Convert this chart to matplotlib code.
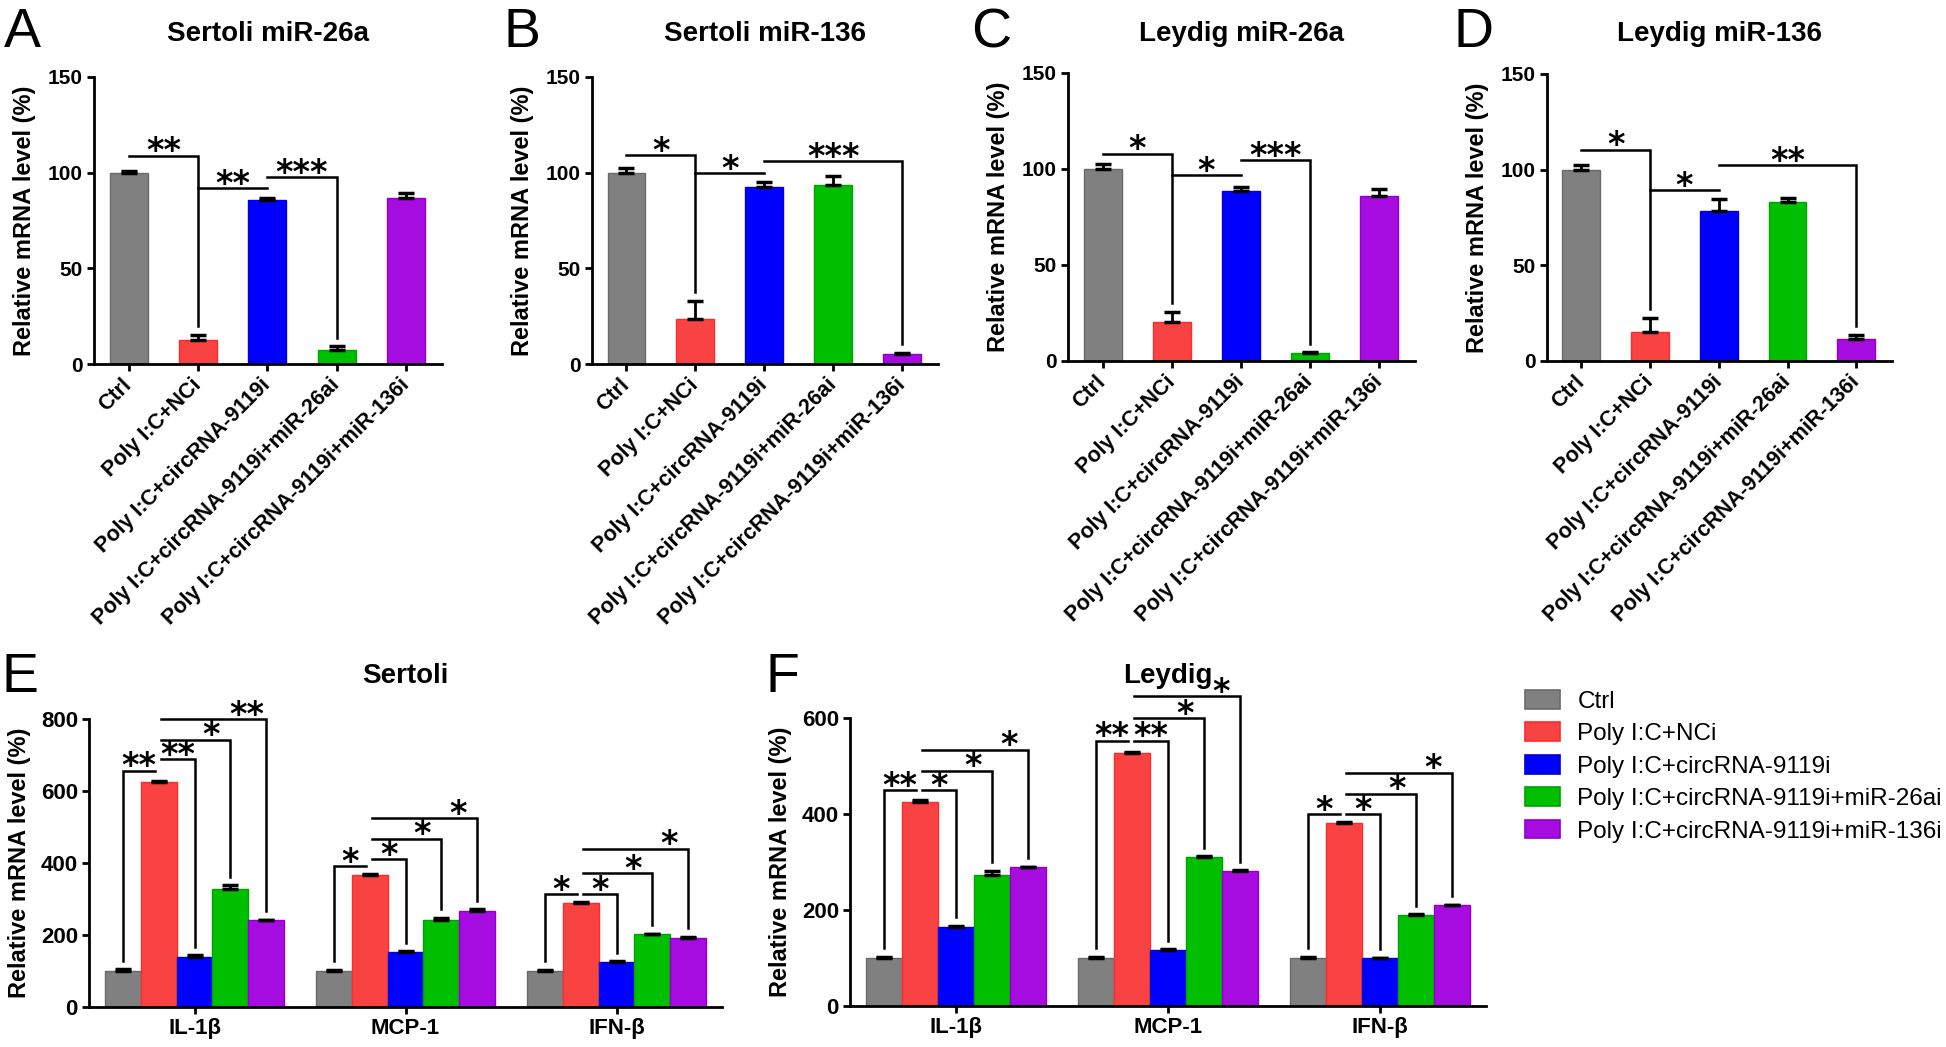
import matplotlib
matplotlib.use("Agg")
from matplotlib import pyplot as plt
from matplotlib.patches import Patch
import numpy as np

plt.rcParams['font.family'] = ['Liberation Sans', 'DejaVu Sans']

groups = ["Ctrl", "Poly I:C+NCi", "Poly I:C+circRNA-9119i",
          "Poly I:C+circRNA-9119i+miR-26ai", "Poly I:C+circRNA-9119i+miR-136i"]
genes = ["IL-1β", "MCP-1", "IFN-β"]
colors = ['#808080', '#f94242', '#0000ff', '#00be00', '#a60be0']
edges = ['#6a6a6a', '#ff2a2a', '#0000d0', '#00a200', '#9000c8']

# panels A-D: mean and upper error, one value per group
a_mean = [100, 12.3, 85.5, 7.5, 86.7]
a_err = [0.8, 3.0, 1.5, 1.7, 2.5]
b_mean = [100, 23.5, 92.3, 93.5, 5.4]
b_err = [2.5, 9.5, 3.0, 4.7, 0.5]
c_mean = [100, 20.1, 88.8, 4.0, 86.0]
c_err = [2.5, 5.6, 1.9, 0.5, 3.5]
d_mean = [100, 15.3, 78.4, 83.3, 11.3]
d_err = [2.4, 7.3, 6.1, 1.7, 2.3]

# significance brackets: (left bar, right bar, height, label, side that drops)
a_sig = [(0, 1, 108.8, '**', 'R'), (1, 2, 91.8, '**', ''), (2, 3, 97.5, '***', 'R')]
b_sig = [(0, 1, 109.0, '*', 'R'), (1, 2, 99.6, '*', ''), (2, 4, 105.9, '***', 'R')]
c_sig = [(0, 1, 107.9, '*', 'R'), (1, 2, 96.8, '*', ''), (2, 3, 104.6, '***', 'R')]
d_sig = [(0, 1, 110.5, '*', 'R'), (1, 2, 89.2, '*', ''), (2, 4, 102.3, '**', 'R')]

# panels E-F: rows = groups, columns = genes
e_mean = [[100, 100, 100], [624, 366, 288], [139, 153, 124], [329, 243, 202], [241, 268, 192]]
e_err = [[5, 3, 3], [4, 3, 4], [5, 2, 3], [9, 4, 2], [2, 3, 3]]
f_mean = [[100, 100, 100], [425, 528, 381], [164, 116, 99], [272, 310, 189], [289, 282, 210]]
f_err = [[3, 3, 2], [4, 2, 3], [3, 2, 1], [9, 2, 2], [1, 1, 1]]

# (gene, left bar, right bar, height, label, side)
e_sig = [(0, 0, 1, 656, '**', 'L'), (0, 1, 2, 688, '**', 'R'), (0, 1, 3, 743, '*', 'R'), (0, 1, 4, 800, '**', 'R'),
         (1, 0, 1, 391, '*', 'L'), (1, 1, 2, 411, '*', 'R'), (1, 1, 3, 467, '*', 'R'), (1, 1, 4, 525, '*', 'R'),
         (2, 0, 1, 313, '*', 'L'), (2, 1, 2, 313, '*', 'R'), (2, 1, 3, 371, '*', 'R'), (2, 1, 4, 440, '*', 'R')]
f_sig = [(0, 0, 1, 449, '**', 'L'), (0, 1, 2, 449, '*', 'R'), (0, 1, 3, 490, '*', 'R'), (0, 1, 4, 534, '*', 'R'),
         (1, 0, 1, 553, '**', 'L'), (1, 1, 2, 553, '**', 'R'), (1, 1, 3, 600, '*', 'R'), (1, 1, 4, 645, '*', 'R'),
         (2, 0, 1, 400, '*', 'L'), (2, 1, 2, 400, '*', 'R'), (2, 1, 3, 442, '*', 'R'), (2, 1, 4, 486, '*', 'R')]

W, H = 1946, 1047
fig = plt.figure(figsize=(W / 100, H / 100), dpi=100)


def add_axes_px(left, top, right, bottom):
    return fig.add_axes([left / W, 1 - bottom / H, (right - left) / W, (bottom - top) / H])


def style(ax, width_px):
    for s in ['top', 'right']:
        ax.spines[s].set_visible(False)
    for s in ['left', 'bottom']:
        ax.spines[s].set_linewidth(2)
    ax.tick_params(width=2, length=5, direction='out', pad=3)
    ax.set_ylabel("Relative mRNA level (%)", fontsize=17, fontweight='bold')
    # right edge of the rotated label sits ~58 px left of the spine
    ax.yaxis.set_label_coords(-58 / width_px, 0.5)


def bracket(ax, xl, xr, y, label, side, top_l, top_r, gap, star_x):
    if side == 'L':
        xs, ys = [xl, xl, xr], [top_l + gap, y, y]
    elif side == 'R':
        xs, ys = [xl, xr, xr], [y, y, top_r + gap]
    else:
        xs, ys = [xl, xr], [y, y]
    ax.plot(xs, ys, color='k', lw=1.8, clip_on=False, solid_joinstyle='miter', zorder=4)
    ax.annotate(label, (star_x, y), xytext=(0, -4), textcoords='offset points',
                ha='center', va='baseline', fontsize=24, fontweight='bold',
                family='DejaVu Sans', annotation_clip=False)


def top_panel(box, mean, err, sig, title, letter, letter_x):
    left, top, right, bottom = box
    ax = add_axes_px(*box)
    x = np.arange(len(groups))
    ax.bar(x, mean, 0.55, color=colors, edgecolor=edges, linewidth=1, zorder=2)
    ax.errorbar(x, mean, yerr=[np.zeros(len(x)), err], fmt='none', ecolor='k',
                elinewidth=2, capsize=6, capthick=2.5, zorder=3)
    ax.set_xlim(-0.5, 4.52)
    ax.set_ylim(0, 150)
    ax.set_yticks([0, 50, 100, 150], ['0', '50', '100', '150'], fontsize=15, fontweight='bold')
    ax.set_xticks(x, groups, rotation=45, ha='right', va='center', rotation_mode='anchor',
                  fontsize=15.5, fontweight='bold')
    style(ax, right - left)
    ax.tick_params(axis='x', pad=8)
    caps = np.array(mean) + np.array(err)
    for i, j, y, label, side in sig:
        bracket(ax, i, j, y, label, side, caps[i], caps[j], 0.03 * 150, (i + j) / 2)
    fig.text((left + right) / 2 / W, 1 - 41 / H, title, ha='center', va='baseline',
             fontsize=20, fontweight='bold')
    fig.text(letter_x / W, 1 - 47 / H, letter, ha='left', va='baseline', fontsize=40)


def bottom_panel(box, mean, err, sig, ymax, title, letter, letter_x):
    left, top, right, bottom = box
    ax = add_axes_px(*box)
    w = 0.169
    g = np.arange(len(genes))
    for k in range(len(groups)):
        ax.bar(g + (k - 2) * w, mean[k], w, color=colors[k], edgecolor=edges[k],
               linewidth=1, zorder=2)
        ax.errorbar(g + (k - 2) * w, mean[k], yerr=[np.zeros(len(g)), err[k]], fmt='none',
                    ecolor='k', elinewidth=2, capsize=6, capthick=2.5, zorder=3)
    ax.set_xlim(-0.5, 2.5)
    ax.set_ylim(0, ymax)
    ticks = list(range(0, ymax + 1, 200))
    ax.set_yticks(ticks, [str(t) for t in ticks], fontsize=16, fontweight='bold')
    ax.set_xticks(g, genes, fontsize=16, fontweight='bold')
    style(ax, right - left)
    caps = np.array(mean) + np.array(err)
    for gi, i, j, y, label, side in sig:
        xl = gi + (i - 2) * w
        xr = gi + (j - 2) * w
        if side == 'L':
            xr -= 0.02
        else:
            xl += 0.01
        sx = xr - min(0.09, (xr - xl) / 2)
        bracket(ax, xl, xr, y, label, side, caps[i][gi], caps[j][gi], 0.03 * ymax, sx)
    fig.text((left + right) / 2 / W, 1 - 683 / H, title, ha='center', va='baseline',
             fontsize=20, fontweight='bold')
    fig.text(letter_x / W, 1 - 692 / H, letter, ha='left', va='baseline', fontsize=40)


top_panel((94, 77, 442, 364), a_mean, a_err, a_sig, "Sertoli miR-26a", "A", 4)
top_panel((592, 77, 938, 364), b_mean, b_err, b_sig, "Sertoli miR-136", "B", 503)
top_panel((1068, 73, 1415, 361), c_mean, c_err, c_sig, "Leydig miR-26a", "C", 971)
top_panel((1547, 74, 1892, 361), d_mean, d_err, d_sig, "Leydig miR-136", "D", 1453)

bottom_panel((89, 719, 722, 1007), e_mean, e_err, e_sig, 800, "Sertoli", "E", 1)
bottom_panel((850, 718, 1486, 1006), f_mean, f_err, f_sig, 600, "Leydig", "F", 766)

handles = [Patch(facecolor=c, edgecolor=e, linewidth=1.2) for c, e in zip(colors, edges)]
fig.legend(handles, groups, loc='upper left', bbox_to_anchor=(1525 / W, 1 - 690 / H),
           frameon=False, fontsize=17.5, handlelength=1.45, handleheight=0.8,
           handletextpad=0.7, labelspacing=0.4, borderpad=0, borderaxespad=0)

fig.savefig("out.png", dpi=100)
